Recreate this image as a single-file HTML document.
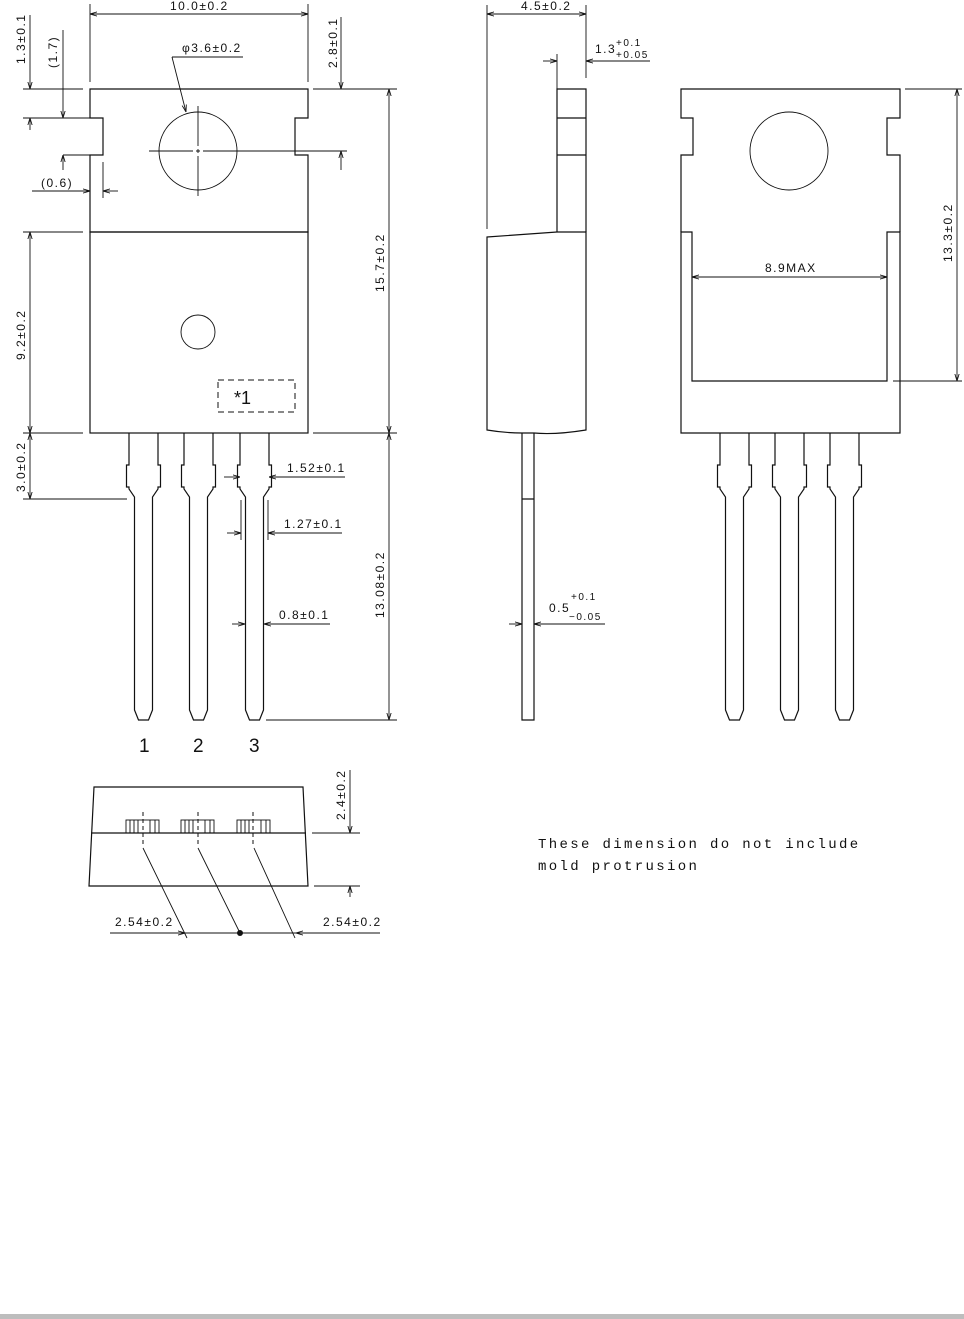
<!DOCTYPE html>
<html><head><meta charset="utf-8"><style>
html,body{margin:0;padding:0;background:#fff;width:964px;height:1319px;overflow:hidden}
svg{display:block}
text{font-family:"Liberation Sans",sans-serif;font-size:12px;fill:#111;letter-spacing:1.5px}
.l{stroke:#111;stroke-width:1.2;fill:none}
.t{stroke:#111;stroke-width:0.9;fill:none}
</style></head><body>
<svg width="964" height="1319" viewBox="0 0 964 1319">
<defs>
<path id="lead" class="l" d="M-14.5,433 V465 H-17 V487 H-14.5 V489 L-9,497 V710 L-5,720 H5 L9,710 V497 L14.5,489 V487 H17 V465 H14.5 V433"/>
<marker id="a" viewBox="0 0 10 10" refX="10" refY="5" markerWidth="8" markerHeight="8" orient="auto-start-reverse"><path d="M0,2 L10,5 L0,8" fill="none" stroke="#111" stroke-width="1.2"/></marker>
</defs>

<!-- FRONT VIEW -->
<path class="l" d="M90,89 H308 V118 H295 V155 H308 V232 H90 V155 H103 V118 H90 Z"/>
<rect class="l" x="90" y="232" width="218" height="201"/>
<circle class="t" cx="198" cy="151" r="39"/>
<path class="t" d="M149,151 H193 M196,151 H200 M203,151 H347 M198,106 V146 M198,149 V153 M198,156 V196"/>
<circle class="t" cx="198" cy="332" r="17"/>
<rect x="218" y="380" width="77" height="32" fill="none" stroke="#111" stroke-width="1" stroke-dasharray="6,4"/>
<text x="234" y="404" style="font-size:18px;letter-spacing:0">*1</text>
<use href="#lead" x="143.5"/><use href="#lead" x="198.5"/><use href="#lead" x="254.5"/>
<text x="139" y="752" style="font-size:19px">1</text>
<text x="193" y="752" style="font-size:19px">2</text>
<text x="249" y="752" style="font-size:19px">3</text>

<!-- front dims -->
<path class="t" d="M90,4 V82 M308,4 V82"/>
<line class="t" x1="90" y1="14" x2="308" y2="14" marker-start="url(#a)" marker-end="url(#a)"/>
<text x="170" y="10">10.0±0.2</text>
<path class="t" d="M23,89 H83 M23,118 H100 M63,155 H100"/>
<line class="t" x1="30" y1="15" x2="30" y2="89" marker-end="url(#a)"/>
<line class="t" x1="30" y1="118" x2="30" y2="130" marker-start="url(#a)"/>
<line class="t" x1="63" y1="30" x2="63" y2="118" marker-end="url(#a)"/>
<line class="t" x1="63" y1="155" x2="63" y2="170" marker-start="url(#a)"/>
<text transform="translate(25,64) rotate(-90)">1.3±0.1</text>
<text transform="translate(57,68) rotate(-90)">(1.7)</text>
<path class="t" d="M103,162 V198"/>
<line class="t" x1="32" y1="191" x2="90" y2="191" marker-end="url(#a)"/>
<line class="t" x1="118" y1="191" x2="103" y2="191" marker-end="url(#a)"/>
<text x="41" y="187">(0.6)</text>
<text x="182" y="52">φ3.6±0.2</text>
<path class="t" d="M243,57 H172"/>
<line class="t" x1="172" y1="57" x2="186" y2="112" marker-end="url(#a)"/>
<path class="t" d="M313,89 H397"/>
<line class="t" x1="341" y1="17" x2="341" y2="89" marker-end="url(#a)"/>
<line class="t" x1="341" y1="170" x2="341" y2="151" marker-end="url(#a)"/>
<text transform="translate(337,68) rotate(-90)">2.8±0.1</text>
<path class="t" d="M313,433 H397 M23,232 H83 M23,433 H83 M23,499 H127 M266,720 H397"/>
<line class="t" x1="389" y1="89" x2="389" y2="433" marker-start="url(#a)" marker-end="url(#a)"/>
<text transform="translate(384,292) rotate(-90)">15.7±0.2</text>
<line class="t" x1="30" y1="232" x2="30" y2="433" marker-start="url(#a)" marker-end="url(#a)"/>
<text transform="translate(25,360) rotate(-90)">9.2±0.2</text>
<line class="t" x1="30" y1="433" x2="30" y2="499" marker-start="url(#a)" marker-end="url(#a)"/>
<text transform="translate(25,492) rotate(-90)">3.0±0.2</text>
<line class="t" x1="389" y1="433" x2="389" y2="720" marker-start="url(#a)" marker-end="url(#a)"/>
<text transform="translate(384,618) rotate(-90)">13.08±0.2</text>
<line class="t" x1="224" y1="477" x2="240" y2="477" marker-end="url(#a)"/>
<line class="t" x1="345" y1="477" x2="269" y2="477" marker-end="url(#a)"/>
<text x="287" y="472">1.52±0.1</text>
<path class="t" d="M241,500 V540 M268,500 V540"/>
<line class="t" x1="227" y1="533" x2="241" y2="533" marker-end="url(#a)"/>
<line class="t" x1="342" y1="533" x2="268" y2="533" marker-end="url(#a)"/>
<text x="284" y="528">1.27±0.1</text>
<line class="t" x1="232" y1="624" x2="245" y2="624" marker-end="url(#a)"/>
<line class="t" x1="330" y1="624" x2="264" y2="624" marker-end="url(#a)"/>
<text x="279" y="619">0.8±0.1</text>

<!-- SIDE VIEW -->
<path class="l" d="M557,232 V89 H586 V232 M557,118 H586 M557,155 H586"/>
<path class="l" d="M487,237 L557,232 H586 V430 Q555,435 534,433 H522 Q505,433 487,430 Z"/>
<path class="l" d="M522,433 V720 H534 V433 M522,499 H534"/>
<path class="t" d="M487,5 V229 M586,5 V78 M557,54 V232"/>
<line class="t" x1="487" y1="14" x2="586" y2="14" marker-start="url(#a)" marker-end="url(#a)"/>
<text x="521" y="10">4.5±0.2</text>
<line class="t" x1="543" y1="61" x2="557" y2="61" marker-end="url(#a)"/>
<line class="t" x1="650" y1="61" x2="586" y2="61" marker-end="url(#a)"/>
<text x="595" y="53">1.3</text><text x="616" y="46" style="font-size:10px">+0.1</text><text x="616" y="58" style="font-size:10px">+0.05</text>
<line class="t" x1="509" y1="624" x2="522" y2="624" marker-end="url(#a)"/>
<line class="t" x1="605" y1="624" x2="534" y2="624" marker-end="url(#a)"/>
<text x="549" y="612">0.5</text><text x="571" y="600" style="font-size:10px">+0.1</text><text x="569" y="620" style="font-size:10px">−0.05</text>

<!-- BACK VIEW -->
<path class="l" d="M681,232 V155 H693 V118 H681 V89 H900 V118 H887 V155 H900 V232"/>
<path class="l" d="M681,232 V433 H900 V232 H887 V381 H692 V232 Z"/>
<circle class="t" cx="789" cy="151" r="39"/>
<line class="t" x1="692" y1="277" x2="887" y2="277" marker-start="url(#a)" marker-end="url(#a)"/>
<text x="765" y="272">8.9MAX</text>
<path class="t" d="M905,89 H962 M893,381 H962"/>
<line class="t" x1="957" y1="89" x2="957" y2="381" marker-start="url(#a)" marker-end="url(#a)"/>
<text transform="translate(952,262) rotate(-90)">13.3±0.2</text>
<use href="#lead" x="734.5"/><use href="#lead" x="789.5"/><use href="#lead" x="844.5"/>

<!-- BOTTOM VIEW -->
<path class="l" d="M94,787 H303 L308,886 H89 Z M91,833 H306"/>
<g class="t">
<rect x="126" y="820" width="33" height="13"/><path d="M130,820 V833 M134,820 V833 M138,820 V833 M150,820 V833 M155,820 V833"/>
<rect x="181" y="820" width="33" height="13"/><path d="M185,820 V833 M189,820 V833 M193,820 V833 M205,820 V833 M210,820 V833"/>
<rect x="237" y="820" width="33" height="13"/><path d="M241,820 V833 M245,820 V833 M249,820 V833 M261,820 V833 M266,820 V833"/>
</g>
<path d="M143,812 V845 M198,812 V845 M253,812 V845" stroke="#111" stroke-width="1" stroke-dasharray="4,3"/>
<path class="t" d="M143,848 L187,938 M198,848 L240,933 M254,848 L295,938"/>
<line class="t" x1="110" y1="933" x2="185" y2="933" marker-end="url(#a)"/>
<line class="t" x1="380" y1="933" x2="296" y2="933" marker-end="url(#a)"/>
<path class="t" d="M185,933 H296"/>
<circle cx="240" cy="933" r="3" fill="#111"/>
<text x="115" y="926">2.54±0.2</text>
<text x="323" y="926">2.54±0.2</text>
<path class="t" d="M312,833 H360 M314,886 H360"/>
<line class="t" x1="350" y1="770" x2="350" y2="833" marker-end="url(#a)"/>
<line class="t" x1="350" y1="897" x2="350" y2="886" marker-end="url(#a)"/>
<text transform="translate(345,820) rotate(-90)">2.4±0.2</text>

<text x="538" y="848" style="font-family:'Liberation Mono',monospace;font-size:14px;letter-spacing:2.35px">These dimension do not include</text>
<text x="538" y="870" style="font-family:'Liberation Mono',monospace;font-size:14px;letter-spacing:2.35px">mold protrusion</text>

<rect x="0" y="1314" width="964" height="5" fill="#bdbdbd"/>
</svg>
</body></html>
